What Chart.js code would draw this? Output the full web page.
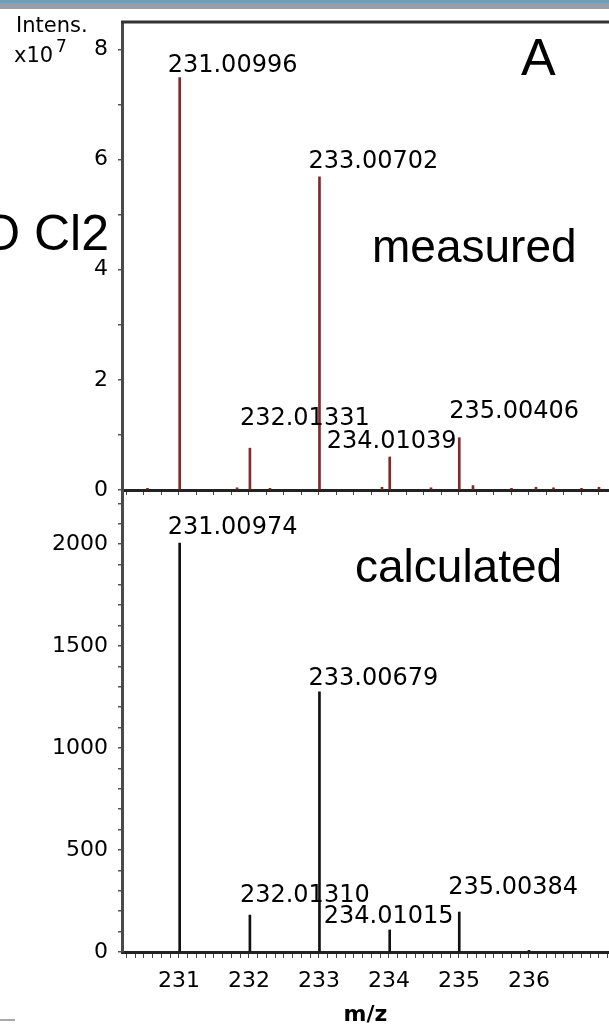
<!DOCTYPE html>
<html>
<head>
<meta charset="utf-8">
<title>m/z spectrum</title>
<script src="https://cdn.jsdelivr.net/npm/chart.js@4.4.1/dist/chart.umd.min.js"></script>
<style>
  html, body { margin: 0; padding: 0; background: #fff; }
  body { width: 609px; height: 1028px; position: relative; overflow: hidden; }
  #band { position: absolute; left: 0; top: 0; width: 609px; height: 9px;
          background: linear-gradient(#6f9db7 0 3px, #9d9d9d 3px 9px); }
  #measured { position: absolute; left: 0; top: 0; }
  #calculated { position: absolute; left: 0; top: 490px; }
  #dash { position: absolute; left: 0; top: 1019px; width: 15px; height: 2px; background: #aaa; }
</style>
</head>
<body>
<div id="band"></div>
<canvas id="measured" width="609" height="500"></canvas>
<canvas id="calculated" width="609" height="538"></canvas>
<div id="dash"></div>

<script>
// measured peaks (intensity in units of 10^7)
const mzMeasured = [231.00996, 232.01331, 233.00702, 234.01039, 235.00406];
const intMeasured = [7.49, 0.76, 5.69, 0.60, 0.95];
// small bumps along the measured baseline
const mzMeasuredNoise = [230.55, 231.83, 232.30, 233.90, 234.60, 235.20, 235.75, 236.10, 236.35, 236.75, 237.00];
const intMeasuredNoise = [0.03, 0.04, 0.03, 0.05, 0.04, 0.08, 0.03, 0.05, 0.04, 0.03, 0.05];

// calculated isotope pattern
const mzCalculated = [231.00974, 232.01310, 233.00679, 234.01015, 235.00384];
const intCalculated = [2005, 181, 1275, 108, 196];
const mzCalculatedNoise = [236.00];
const intCalculatedNoise = [8];

const mzTicks = [231, 232, 233, 234, 235, 236];
const measuredTicks = [0, 2, 4, 6, 8];
const calculatedTicks = [0, 500, 1000, 1500, 2000];

const X_MIN = 230.186, X_MAX = 237.143;

Chart.defaults.font.family = '"DejaVu Sans", sans-serif';
Chart.defaults.color = '#000';

const toPoints = (xs, ys) => xs.map((x, i) => ({ x: x, y: ys[i] }));

// peak labels + free text drawn on top of the chart
const textPlugin = {
    id: 'texts',
    afterDatasetsDraw(chart, args, opts) {
        const ctx = chart.ctx;
        const xs = chart.scales.x, ys = chart.scales.y;
        const area = chart.chartArea;
        ctx.save();
        if (opts.frameTop) {
            ctx.strokeStyle = '#333';
            ctx.lineWidth = 3;
            ctx.beginPath();
            ctx.moveTo(area.left - 1, area.top);
            ctx.lineTo(chart.width, area.top);
            ctx.stroke();
        }
        ctx.fillStyle = '#000';
        ctx.textBaseline = 'alphabetic';
        ctx.font = '24px "DejaVu Sans"';
        ctx.textAlign = 'left';
        opts.mz.forEach((m, i) => {
            const px = xs.getPixelForValue(m);
            const py = ys.getPixelForValue(opts.values[i]);
            const [dx, dy] = opts.shift[i];
            ctx.fillText(m.toFixed(5), px + dx, py + dy);
        });
        (opts.notes || []).forEach(n => {
            ctx.font = n.font;
            ctx.textAlign = n.align || 'left';
            ctx.fillText(n.text, n.x, n.y);
        });
        ctx.restore();
    }
};

function yAxis(max, step, labels) {
    return {
        type: 'linear',
        min: 0,
        max: max,
        border: { color: '#4a4a4a', width: 3 },
        grid: { drawOnChartArea: false, tickLength: 4, color: '#555', lineWidth: 1.5 },
        ticks: {
            stepSize: step,
            includeBounds: false,
            autoSkip: false,
            padding: 10,
            font: { size: 22 },
            color: '#000',
            callback: v => labels.includes(Math.round(v)) ? String(Math.round(v)) : ''
        },
        afterFit: s => { s.width = 122; s.paddingTop = 0; s.paddingBottom = 0; }
    };
}

new Chart(document.getElementById('measured'), {
    type: 'bar',
    data: {
        datasets: [
            { data: toPoints(mzMeasured, intMeasured), backgroundColor: '#7e2b2b', barThickness: 2 },
            { data: toPoints(mzMeasuredNoise, intMeasuredNoise), backgroundColor: '#7e2b2b', barThickness: 2 }
        ]
    },
    options: {
        responsive: false,
        animation: false,
        grouped: false,
        layout: { padding: { top: 22, left: 0, right: 0, bottom: 0 } },
        plugins: {
            legend: { display: false },
            tooltip: { enabled: false },
            texts: {
                frameTop: true,
                mz: mzMeasured,
                values: intMeasured,
                shift: [[-12, -6], [-10, -23], [-11, -9], [-63, -9], [-10, -20]],
                notes: [
                    { text: 'Intens.', x: 16, y: 32, font: '21px "DejaVu Sans"' },
                    { text: 'x10', x: 14, y: 62, font: '21px "DejaVu Sans"' },
                    { text: '7', x: 56, y: 52, font: '17px "DejaVu Sans"' },
                    { text: 'A', x: 521, y: 75, font: '52px "Liberation Sans"' },
                    { text: 'measured', x: 372, y: 262, font: '46px "Liberation Sans"' },
                    { text: 'O Cl2', x: 109, y: 250, align: 'right', font: '50px "Liberation Sans"' }
                ]
            }
        },
        scales: {
            x: {
                type: 'linear',
                min: X_MIN,
                max: X_MAX,
                offset: false,
                border: { color: '#222', width: 3 },
                grid: { drawOnChartArea: false, offset: false, tickLength: 5, color: '#444' },
                ticks: { display: false, stepSize: 0.25, includeBounds: false, autoSkip: false },
                afterFit: s => { s.height = 10; s.paddingLeft = 0; s.paddingRight = 0; }
            },
            y: yAxis(8.5, 1, measuredTicks)
        }
    },
    plugins: [textPlugin]
});

new Chart(document.getElementById('calculated'), {
    type: 'bar',
    data: {
        datasets: [
            { data: toPoints(mzCalculated, intCalculated), backgroundColor: '#111', barThickness: 2 },
            { data: toPoints(mzCalculatedNoise, intCalculatedNoise), backgroundColor: '#111', barThickness: 2 }
        ]
    },
    options: {
        responsive: false,
        animation: false,
        grouped: false,
        layout: { padding: 0 },
        plugins: {
            legend: { display: false },
            tooltip: { enabled: false },
            texts: {
                mz: mzCalculated,
                values: intCalculated,
                shift: [[-12, -9], [-10, -13], [-11, -7], [-66, -7], [-11, -18]],
                notes: [
                    { text: 'calculated', x: 355, y: 92, font: '46px "Liberation Sans"' }
                ]
            }
        },
        scales: {
            x: {
                type: 'linear',
                min: X_MIN,
                max: X_MAX,
                offset: false,
                border: { color: '#222', width: 3 },
                grid: { drawOnChartArea: false, offset: false, tickLength: 6, color: '#444' },
                ticks: {
                    stepSize: 0.125,
                    includeBounds: false,
                    autoSkip: false,
                    maxRotation: 0,
                    minRotation: 0,
                    padding: 10,
                    font: { size: 22 },
                    color: '#000',
                    callback: v => mzTicks.includes(v) ? String(v) : ''
                },
                title: {
                    display: true,
                    text: 'm/z',
                    color: '#000',
                    font: { size: 22, weight: 'bold' },
                    padding: { top: 0, bottom: 0 }
                },
                afterFit: s => { s.height = 76; s.paddingLeft = 0; s.paddingRight = 0; }
            },
            y: yAxis(2265, 100, calculatedTicks)
        }
    },
    plugins: [textPlugin]
});
</script>
</body>
</html>
